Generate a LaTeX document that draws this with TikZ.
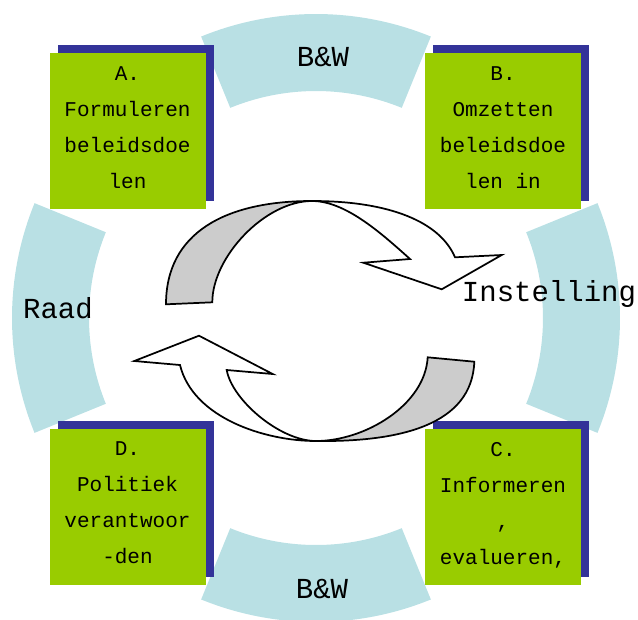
\documentclass[tikz,border=0pt]{standalone}
\usepackage{fontspec}
\setmonofont{Liberation Mono}
\usepackage{tikz}
\usetikzlibrary{shadows}

\definecolor{ringblue}{RGB}{185,224,228}
\definecolor{leafgreen}{RGB}{153,204,0}
\definecolor{shadeblue}{RGB}{51,51,153}
\definecolor{backgray}{RGB}{204,204,204}

\newcommand{\stagefont}{\ttfamily\fontsize{15.75}{27}\selectfont}
\newcommand{\ringfont}{\ttfamily\fontsize{21.75}{26}\selectfont}

\tikzset{
  stage/.style={fill=leafgreen, minimum width=117pt, minimum height=117pt, inner sep=0pt,
    general shadow={fill=shadeblue, shadow xshift=6pt, shadow yshift=6pt}},
  stagetext/.style={font=\stagefont, align=center, inner sep=0pt, yshift=-1.4pt,
    execute at begin node=\strut, execute at end node=\strut},
  ring/.style={fill=ringblue},
  ringtext/.style={font=\ringfont, anchor=base, inner sep=0pt},
  backside/.style={fill=backgray, draw=black, line width=1.3pt},
  frontside/.style={fill=white, draw=black, line width=1.3pt}
}

\begin{document}
\begin{tikzpicture}[x=0.75pt, y=-0.75pt]
    \useasboundingbox (0,0) rectangle (638,619);
    \clip (0,0) rectangle (638,619);
    \foreach \a in {-90,0,90,180}
      \fill[ring, shift={(316,318)}] (\a-22.2:304)
        arc[start angle=\a-22.2, end angle=\a+22.2, radius=304]
        -- (\a+22.2:227)
        arc[start angle=\a+22.2, end angle=\a-22.2, radius=227] -- cycle;
    \node[ringtext] (bwtop) at (323,66.7) {B\&W};
    \node[ringtext] (bwbottom) at (322,598.3) {B\&W};
    \node[ringtext] (raad) at (58,318.3) {Raad};
    \node[ringtext] (instelling) at (549,301.7) {Instelling};

    \node[stage] (stageA) at (127.5,131) {};
    \node[stage] (stageB) at (503,131) {};
    \node[stage] (stageC) at (503,506.5) {};
    \node[stage] (stageD) at (127.5,506.5) {};
    \node[stagetext] (textA) at (stageA) {A.\\Formuleren\\beleidsdoe\\len};
    \node[stagetext] (textB) at (stageB) {B.\\Omzetten\\beleidsdoe\\len in};
    \node[stagetext] (textC) at (stageC) {C.\\Informeren\\,\\evalueren,};
    \node[stagetext] (textD) at (stageD) {D.\\Politiek\\verantwoor\\-den};

    \filldraw[backside] (166,304.3) .. controls (166,233) and (225,201) .. (312,201)
      .. controls (265,201) and (212.3,257) .. (212.3,302.3) -- cycle;
    \filldraw[frontside] (312,201) .. controls (390,201) and (440,222) .. (455,257.3)
      -- (501.7,255) -- (441.7,289.3) -- (363.3,262.7) -- (410,259)
      .. controls (380,232) and (345,201) .. (312,201) -- cycle;
    \filldraw[backside] (474.3,361.7) .. controls (472,425) and (400,442) .. (316,441)
      .. controls (365,441) and (425,405) .. (427.7,357.3) -- cycle;
    \filldraw[frontside] (316,441) .. controls (265,441) and (193,418) .. (180,365)
      -- (134.3,361) -- (199,335.7) -- (272.7,374) -- (226.7,370)
      .. controls (232,400) and (280,441) .. (316,441) -- cycle;
\end{tikzpicture}
\end{document}
